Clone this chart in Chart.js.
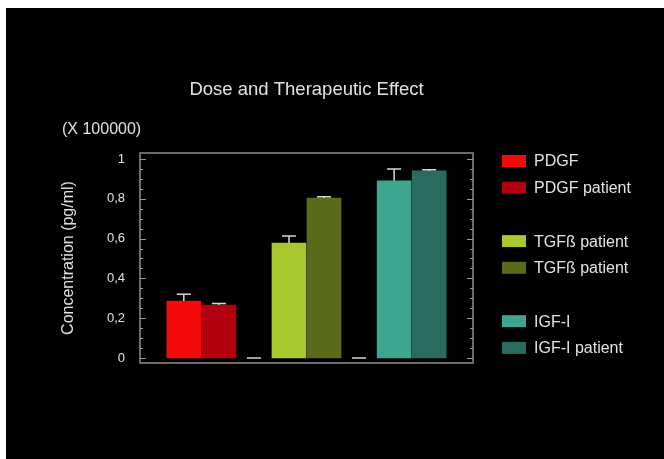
<!doctype html>
<html lang="en">
    <head>
        <meta charset="UTF-8" />
        <title>Dose and Therapeutic Effect</title>
        <script src="https://cdn.jsdelivr.net/npm/chart.js"></script>
        <style>
            html, body { margin: 0; padding: 0; background: #fff; }
            #box { position: absolute; left: 6px; top: 8px; width: 658px; height: 451px; background: #000; }
        </style>
    </head>
    <body>
        <div id="box"><canvas id="myChart"></canvas></div>
        <script>
            // bar slots, the empty ones are the gaps between groups
            var labels = ["PDGF", "PDGF patient", "", "TGFß patient", "TGFß patient", "", "IGF-I", "IGF-I patient"];
            var values = [0.286, 0.266, 0, 0.578, 0.804, 0, 0.89, 0.94];
            var errors = [0.034, 0.008, 0, 0.035, 0.006, 0, 0.06, 0.006];
            var colors = ["#f50a0a", "#b3000f", "#000000", "#a9c82e", "#5a6b19", "#000000", "#3fa590", "#2a6b5f"];
            var yTicks = [0, 0.2, 0.4, 0.6, 0.8, 1];

            var textColor = "#e2e2e2";
            var frameColor = "#6a6a6a";
            var fontFamily = "'Liberation Sans', Arial, sans-serif";

            // frame, inward ticks and error bars
            var framePlugin = {
                id: "frame",
                afterDatasetsDraw: function (chart) {
                    var ctx = chart.ctx;
                    var a = chart.chartArea;
                    var y = chart.scales.y;
                    var x = chart.scales.x;
                    ctx.save();

                    // error bars
                    ctx.strokeStyle = "#d8d8d8";
                    ctx.lineWidth = 1.5;
                    values.forEach(function (v, i) {
                        var px = x.getPixelForValue(i + 1);
                        var top = y.getPixelForValue(v + errors[i]);
                        var base = y.getPixelForValue(v);
                        ctx.beginPath();
                        ctx.moveTo(px, base);
                        ctx.lineTo(px, top);
                        ctx.moveTo(px - 7, top);
                        ctx.lineTo(px + 7, top);
                        ctx.stroke();
                    });

                    // frame
                    ctx.strokeStyle = frameColor;
                    ctx.lineWidth = 2;
                    ctx.strokeRect(a.left, a.top, a.right - a.left, a.bottom - a.top);

                    // ticks every 0.05, longer on the labelled ones
                    ctx.lineWidth = 1;
                    ctx.strokeStyle = "#9a9a9a";
                    for (var k = 0; k <= 20; k++) {
                        var v = k * 0.05;
                        var py = Math.round(y.getPixelForValue(v)) + 0.5;
                        var len = k % 4 === 0 ? 6 : 3;
                        ctx.beginPath();
                        ctx.moveTo(a.left, py);
                        ctx.lineTo(a.left + len, py);
                        ctx.moveTo(a.right, py);
                        ctx.lineTo(a.right - len, py);
                        ctx.stroke();
                    }

                    // unit label above the axis
                    ctx.fillStyle = textColor;
                    ctx.font = "16px " + fontFamily;
                    ctx.textAlign = "left";
                    ctx.textBaseline = "middle";
                    ctx.fillText("(X 100000)", 56, 122);

                    // legend, blank slots keep their spacing
                    chart.data.datasets[0].data.forEach(function (d, i) {
                        var cy = 153 + i * 26.7;
                        if (!labels[i]) return;
                        ctx.fillStyle = colors[i];
                        ctx.fillRect(496, cy - 6, 24, 12);
                        ctx.fillStyle = textColor;
                        ctx.fillText(labels[i], 528, cy + 1);
                    });
                    ctx.restore();
                }
            };

            var ctx = document.getElementById("myChart").getContext("2d");
            var chart = new Chart(ctx, {
                type: "bar",
                data: {
                    datasets: [
                        {
                            label: "Concentration",
                            data: values.map(function (v, i) {
                                return { x: i + 1, y: v };
                            }),
                            backgroundColor: colors,
                            barThickness: 34
                        }
                    ]
                },
                options: {
                    responsive: true,
                    maintainAspectRatio: false,
                    animation: false,
                    layout: { padding: { left: 0, right: 191, top: 0, bottom: 96 } },
                    plugins: {
                        legend: { display: false },
                        tooltip: { enabled: false },
                        title: {
                            display: true,
                            fullSize: false,
                            text: "Dose and Therapeutic Effect",
                            color: textColor,
                            font: { family: fontFamily, size: 18.5, weight: "normal" },
                            padding: { top: 70.9, bottom: 51.9 }
                        }
                    },
                    scales: {
                        x: {
                            type: "linear",
                            display: false,
                            offset: false,
                            min: -0.25,
                            max: 9.25
                        },
                        y: {
                            min: -0.025,
                            max: 1.03,
                            afterBuildTicks: function (scale) {
                                scale.ticks = yTicks.map(function (v) {
                                    return { value: v };
                                });
                            },
                            afterFit: function (scale) {
                                scale.width = 134;
                            },
                            grid: { display: false, drawTicks: false },
                            border: { display: false },
                            ticks: {
                                color: textColor,
                                padding: 15,
                                font: { family: fontFamily, size: 13 },
                                callback: function (v) {
                                    return String(v).replace(".", ",");
                                }
                            },
                            title: {
                                display: true,
                                text: "Concentration (pg/ml)",
                                color: textColor,
                                font: { family: fontFamily, size: 16 },
                                padding: { top: 52.5, bottom: 0 }
                            }
                        }
                    }
                },
                plugins: [framePlugin]
            });
        </script>
    </body>
</html>
